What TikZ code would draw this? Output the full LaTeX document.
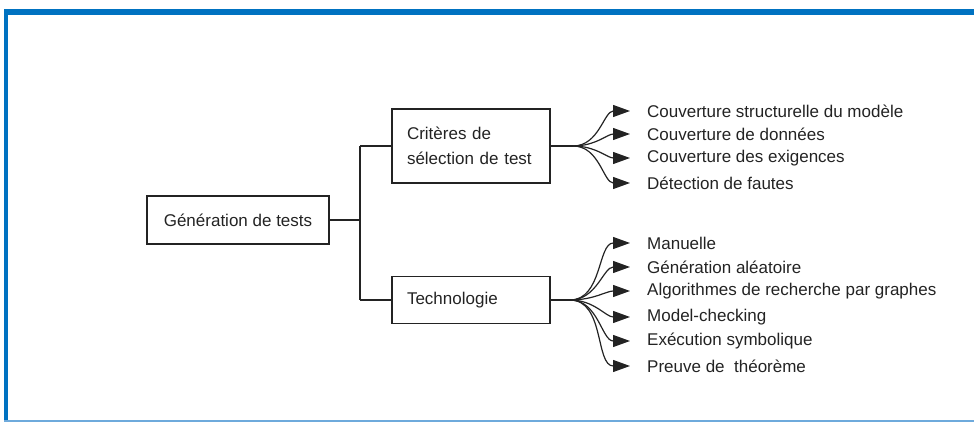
\documentclass[tikz,border=0pt]{standalone}
\usepackage{fontspec}
\setmainfont{Liberation Sans}
\usetikzlibrary{arrows.meta}
\definecolor{frameblue}{RGB}{0,114,193}
\definecolor{framelight}{RGB}{110,170,220}
\definecolor{linegray}{RGB}{35,35,35}
\begin{document}
\begin{tikzpicture}[x=1pt,y=-1pt,
  txt/.style={font=\fontsize{17}{25}\selectfont, text=linegray},
  box/.style={draw=linegray, line width=1.4pt, txt, inner sep=0pt},
  leftbox/.style={box, text width=128pt, align=left, inner xsep=15pt, minimum width=158pt},
  item/.style={txt, anchor=west, inner xsep=0pt, inner ysep=0pt},
  conn/.style={draw=linegray, line width=1.4pt},
  fan/.style={draw=linegray, line width=1.2pt, -{Triangle[length=17pt,width=12pt]}}
]
\useasboundingbox (0,0) rectangle (974,422);
% frame
\fill[frameblue] (4,9) rectangle (974,15);
\fill[frameblue] (4,9) rectangle (7.5,422);
\draw[framelight, line width=1.5pt] (4,421) -- (974,421);

% nodes
\node[box, minimum width=182pt, minimum height=48pt] (gen) at (238,220) {Génération de tests};
\node[leftbox, minimum height=74pt] (crit) at (471,146) {Critères de\\sélection de test};
\node[leftbox, minimum height=47pt] (tech) at (471,300) {Technologie};

% tree connectors
\coordinate (j) at (360,220);
\draw[conn] (gen.east) -- (j);
\draw[conn] (j |- crit.west) -- (j |- tech.west);
\draw[conn] (j |- crit.west) -- (crit.west);
\draw[conn] (j |- tech.west) -- (tech.west);

% fan points
\coordinate (fa) at (573,146);
\coordinate (fb) at (570,300);
\draw[conn] (crit.east) -- (fa);
\draw[conn] (tech.east) -- (fb);

% labels (top)
\node[item] (a1) at (647,111) {Couverture structurelle du modèle};
\node[item] (a2) at (647,134) {Couverture de données};
\node[item] (a3) at (647,158) {Couverture des exigences};
\node[item] (a4) at (647,183) {Détection de fautes};
% labels (bottom)
\node[item] (b1) at (647,243) {Manuelle};
\node[item] (b2) at (647,267) {Génération aléatoire};
\node[item] (b3) at (647,291) {Algorithmes de recherche par graphes};
\node[item] (b4) at (647,317) {Model-checking};
\node[item] (b5) at (647,341) {Exécution symbolique};
\node[item] (b6) at (647,366) {Preuve de\ \ théorème};

\foreach \t in {a1,a2,a3,a4}
  \draw[fan] (fa) to[out=0,in=180] ([xshift=-17pt]\t.west);
\foreach \t in {b1,b2,b3,b4,b5,b6}
  \draw[fan] (fb) to[out=0,in=180] ([xshift=-17pt]\t.west);
\end{tikzpicture}
\end{document}
